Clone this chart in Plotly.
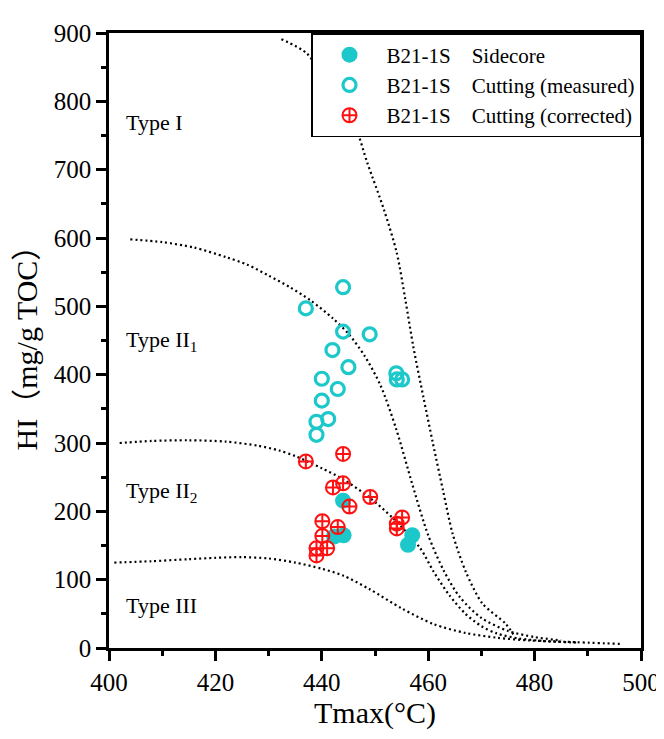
import plotly.graph_objects as go

# ---------------- data ----------------
sidecore_tmax = [444.0, 444.1, 442.3, 457.0, 456.2]
sidecore_hi = [215.6, 165, 163, 165, 151]

measured_tmax = [444.0, 437.0, 444.0, 449.0, 442.0, 445.0, 440.0, 443.0, 454.0, 454.1, 455.1, 440.0, 441.2, 439.0, 439.0]
measured_hi = [528, 497, 463, 459, 436, 411, 394, 379, 402, 393, 393, 362, 335, 331, 312]

corrected_tmax = [444.0, 437.0, 442.1, 444.0, 449.1, 445.2, 455.1, 454.1, 454.1, 440.1, 443.0, 440.1, 441.0, 439.0, 439.0]
corrected_hi = [284, 273, 235, 241, 221, 207, 191, 182, 175, 185.5, 177, 164, 146, 146, 135.5]

# boundary curves
typeI_x = [432.4, 437.2, 441.0, 446.1, 448.6, 451.7, 454.1, 455.7, 457.2, 459.1, 460.9, 462.8, 464.6, 467.1, 470.2, 474.5, 476.0]
typeI_y = [891, 870, 825, 766, 709, 641, 578, 510, 441, 367, 299, 230, 167, 111, 65, 36, 20]

typeII1_x = [404.0, 410.0, 416.0, 422.0, 426.0, 430.0, 434.0, 438.0, 442.0, 445.0, 448.0, 451.0, 454.0, 457.0, 460.0, 463.0, 466.0, 470.0, 475.0, 480.0, 485.0]
typeII1_y = [598, 594, 586, 572, 561, 545, 528, 508, 483, 460, 428, 385, 320, 240, 165, 112, 74, 44, 25, 16, 11]

typeII2_x = [402.0, 408.0, 415.0, 422.0, 428.0, 432.0, 435.0, 437.0, 440.0, 444.0, 449.0, 453.5, 458.5, 461.0, 464.0, 467.0, 470.0, 473.0, 477.0, 482.0, 488.0]
typeII2_y = [300, 303, 304, 302, 296, 289, 281, 274, 263, 247, 220, 189, 146, 112, 77, 50, 32, 21, 14, 10, 8]

typeIII_x = [401.0, 408.0, 415.0, 420.0, 425.0, 430.0, 435.0, 440.0, 444.0, 449.0, 455.0, 461.0, 467.0, 473.0, 479.0, 486.0, 496.0]
typeIII_y = [125, 127, 130, 132, 133, 131, 125, 116, 106, 86, 58, 35, 22, 15, 11, 9, 6]

x_ticks = [400, 420, 440, 460, 480, 500]
y_ticks = [0, 100, 200, 300, 400, 500, 600, 700, 800, 900]

region_labels = ["Type I", "Type II<sub>1</sub>", "Type II<sub>2</sub>", "Type III"]
region_label_x = [402.8, 402.8, 402.8, 402.8]
region_label_y = [769, 450, 228, 62]

legend_names = ["B21-1S\u00a0\u00a0\u00a0\u00a0Sidecore",
                "B21-1S\u00a0\u00a0\u00a0\u00a0Cutting (measured)",
                "B21-1S\u00a0\u00a0\u00a0\u00a0Cutting (corrected)"]

CYAN = "#1CC8C9"
RED = "#FF1010"
FONT = "Liberation Serif, Times New Roman, Noto Sans CJK SC, serif"

fig = go.Figure()

dotline = dict(color="black", width=2.2, dash="2px,3px")
for cx, cy in [(typeI_x, typeI_y), (typeII1_x, typeII1_y), (typeII2_x, typeII2_y), (typeIII_x, typeIII_y)]:
    fig.add_trace(go.Scatter(x=cx, y=cy, mode="lines", line=dict(dotline, shape="spline", smoothing=0.8),
                             showlegend=False, hoverinfo="skip"))

fig.add_trace(go.Scatter(x=sidecore_tmax, y=sidecore_hi, mode="markers", name=legend_names[0],
                         marker=dict(symbol="circle", size=16, color=CYAN, line=dict(width=0))))
fig.add_trace(go.Scatter(x=measured_tmax, y=measured_hi, mode="markers", name=legend_names[1],
                         marker=dict(symbol="circle-open", size=13, color=CYAN, line=dict(width=3.2, color=CYAN))))
fig.add_trace(go.Scatter(x=corrected_tmax, y=corrected_hi, mode="markers", name=legend_names[2],
                         marker=dict(symbol="circle-cross-open", size=14, color=RED, line=dict(width=2, color=RED))))

for t, lx, ly in zip(region_labels, region_label_x, region_label_y):
    fig.add_annotation(x=lx, y=ly, text=t, showarrow=False, xanchor="left", yanchor="middle",
                       font=dict(family=FONT, size=22, color="black"))

axis_common = dict(showline=True, linewidth=2.5, linecolor="black", mirror=True, showgrid=False,
                   zeroline=False, ticks="outside", ticklen=10, tickwidth=2.5, tickcolor="black",
                   tickfont=dict(family=FONT, size=25, color="black"))

fig.update_xaxes(range=[400, 500], tickvals=x_ticks, ticktext=[str(v) for v in x_ticks],
                 minor=dict(dtick=10, ticks="outside", ticklen=5, tickwidth=2.5, tickcolor="black"),
                 title=dict(text="Tmax(°C)", font=dict(family=FONT, size=30, color="black"), standoff=8),
                 **axis_common)
fig.update_yaxes(range=[0, 900], tickvals=y_ticks, ticktext=[str(v) for v in y_ticks],
                 minor=dict(dtick=50, ticks="outside", ticklen=5, tickwidth=2.5, tickcolor="black"),
                 title=dict(text="HI（mg/g TOC）", font=dict(family=FONT, size=30, color="black"), standoff=8),
                 **axis_common)

fig.update_layout(
    width=664, height=739,
    margin=dict(l=101, r=23, t=14, b=99),
    paper_bgcolor="white", plot_bgcolor="white",
    legend=dict(x=1, xanchor="right", y=1, yanchor="top", bgcolor="white",
                bordercolor="black", borderwidth=1.5,
                font=dict(family=FONT, size=21, color="black"),
                tracegroupgap=0, itemwidth=64),
)

fig.write_html("out.html")
